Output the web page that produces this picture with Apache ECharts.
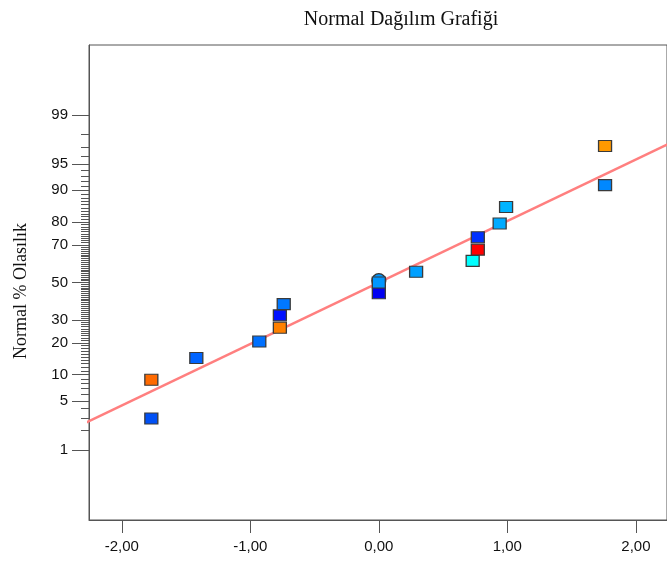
<!DOCTYPE html>
<html>
<head>
<meta charset="utf-8">
<script src="https://cdn.jsdelivr.net/npm/echarts@6/dist/echarts.min.js"></script>
<style>
html,body{margin:0;padding:0;background:#fff;}
#chart{width:667px;height:563px;}
</style>
</head>
<body>
<div id="chart"></div>
<script>
// ---- data ----
const titleText = "Normal Dağılım Grafiği";
const yAxisTitle = "Normal % Olasılık";
const xTickValues = [-2, -1, 0, 1, 2];
const yTickPercents = [1, 5, 10, 20, 30, 50, 70, 80, 90, 95, 99];
const effectX   = [-1.77, -1.77, -1.42, -0.93, -0.77, -0.77, -0.74, 0.00, 0.00, 0.29, 0.73, 0.77, 0.77, 0.94, 0.99, 1.76, 1.76];
const probPct   = [2.94, 8.82, 14.7, 20.6, 26.5, 32.4, 38.2, 44.1, 50.0, 55.9, 61.8, 67.6, 73.5, 79.4, 85.3, 91.2, 97.1];
const pointColors = ['#0050f5', '#ff6a00', '#0064ff', '#0070ff', '#ff8000', '#0010ff', '#0078ff', '#0000f0', '#0096ff',
                     '#00a0ff', '#00ffff', '#ff0000', '#0030ff', '#00aaff', '#00b4ff', '#0088ff', '#ff9900'];
const circleX = [0.00];
const circlePct = [51.0];
const lineX = [-2.3, 2.3];
const linePct = [2.47, 97.53];

// inverse normal CDF (Acklam)
function probit(p) {
  const a = [-3.969683028665376e+01, 2.209460984245205e+02, -2.759285104469687e+02, 1.383577518672690e+02, -3.066479806614716e+01, 2.506628277459239e+00];
  const b = [-5.447609879822406e+01, 1.615858368580409e+02, -1.556989798598866e+02, 6.680131188771972e+01, -1.328068155288572e+01];
  const c = [-7.784894002430293e-03, -3.223964580411365e-01, -2.400758277161838e+00, -2.549732539343734e+00, 4.374664141464968e+00, 2.938163982698783e+00];
  const d = [7.784695709041462e-03, 3.224671290700398e-01, 2.445134137142996e+00, 3.754408661907416e+00];
  const pl = 0.02425, ph = 1 - pl;
  let q, r;
  if (p < pl) {
    q = Math.sqrt(-2 * Math.log(p));
    return (((((c[0]*q+c[1])*q+c[2])*q+c[3])*q+c[4])*q+c[5]) / ((((d[0]*q+d[1])*q+d[2])*q+d[3])*q+1);
  } else if (p <= ph) {
    q = p - 0.5; r = q * q;
    return (((((a[0]*r+a[1])*r+a[2])*r+a[3])*r+a[4])*r+a[5])*q / (((((b[0]*r+b[1])*r+b[2])*r+b[3])*r+b[4])*r+1);
  } else {
    q = Math.sqrt(-2 * Math.log(1 - p));
    return -(((((c[0]*q+c[1])*q+c[2])*q+c[3])*q+c[4])*q+c[5]) / ((((d[0]*q+d[1])*q+d[2])*q+d[3])*q+1);
  }
}
const z = pct => probit(pct / 100);

const majorZ = yTickPercents.map(z);
const minorZ = [];
for (let i = 1; i <= 99; i++) { if (yTickPercents.indexOf(i) < 0) minorZ.push(z(i)); }

function labelFor(v) {
  let best = 0, bd = 1e9;
  majorZ.forEach((m, i) => { const dd = Math.abs(m - v); if (dd < bd) { bd = dd; best = i; } });
  return String(yTickPercents[best]);
}

const scatterData = effectX.map((x, i) => ({
  value: [x, z(probPct[i])],
  itemStyle: { color: pointColors[i] }
}));

const chart = echarts.init(document.getElementById('chart'), null, { renderer: 'canvas' });
const zMin = -3.3, zMax = 3.3;
const xMin = -2.255, xMax = 2.242;
const axisColor = '#555';
const labelFont = { color: '#111', fontFamily: 'Liberation Sans, Arial, sans-serif', fontSize: 15 };

chart.setOption({
  animation: false,
  backgroundColor: '#fff',
  title: {
    text: titleText,
    left: 396, top: 5, textAlign: 'center',
    textStyle: { fontFamily: 'Liberation Serif, Times New Roman, serif', fontWeight: 'normal', fontSize: 20, color: '#111' }
  },
  graphic: [{
    type: 'text',
    rotation: Math.PI / 2,
    x: 21, y: 291,
    style: {
      text: yAxisTitle,
      font: '18px "Liberation Serif", "Times New Roman", serif',
      fill: '#111', align: 'center', verticalAlign: 'middle'
    }
  }],
  grid: {
    left: 89, right: -3, top: 45, bottom: 43,
    show: true, borderColor: axisColor, borderWidth: 1
  },
  xAxis: {
    type: 'value', min: xMin, max: xMax,
    splitLine: { show: false },
    axisLine: { show: true, onZero: false, lineStyle: { color: axisColor, width: 1 } },
    axisTick: { show: true, customValues: xTickValues, length: 13, inside: false, lineStyle: { color: axisColor } },
    axisLabel: { customValues: xTickValues, margin: 19, ...labelFont,
      formatter: v => v.toFixed(2).replace('.', ',') }
  },
  yAxis: [{
    type: 'value', min: zMin, max: zMax,
    splitLine: { show: false },
    axisLine: { show: true, onZero: false, lineStyle: { color: axisColor, width: 1 } },
    axisTick: { show: true, customValues: majorZ, length: 17, lineStyle: { color: axisColor } },
    axisLabel: { customValues: majorZ, margin: 21, ...labelFont, formatter: v => labelFor(v) }
  }, {
    type: 'value', min: zMin, max: zMax, position: 'left',
    splitLine: { show: false },
    axisLine: { show: false, onZero: false },
    axisTick: { show: true, customValues: minorZ, length: 8, lineStyle: { color: axisColor } },
    axisLabel: { show: false }
  }],
  series: [{
    type: 'line',
    data: lineX.map((x, i) => [x, z(linePct[i])]),
    symbol: 'none',
    lineStyle: { color: '#ff7f7f', width: 2.5 },
    clip: true, z: 1
  }, {
    type: 'scatter',
    data: circleX.map((x, i) => [x, z(circlePct[i])]),
    symbol: 'circle', symbolSize: 14,
    itemStyle: { color: '#0096ff', borderColor: '#333', borderWidth: 1.2, opacity: 1 },
    z: 2
  }, {
    type: 'scatter',
    data: scatterData,
    symbol: 'rect', symbolSize: [13, 11],
    itemStyle: { borderColor: '#3a3a3a', borderWidth: 1.2, opacity: 1 },
    z: 3
  }]
});
</script>
</body>
</html>
